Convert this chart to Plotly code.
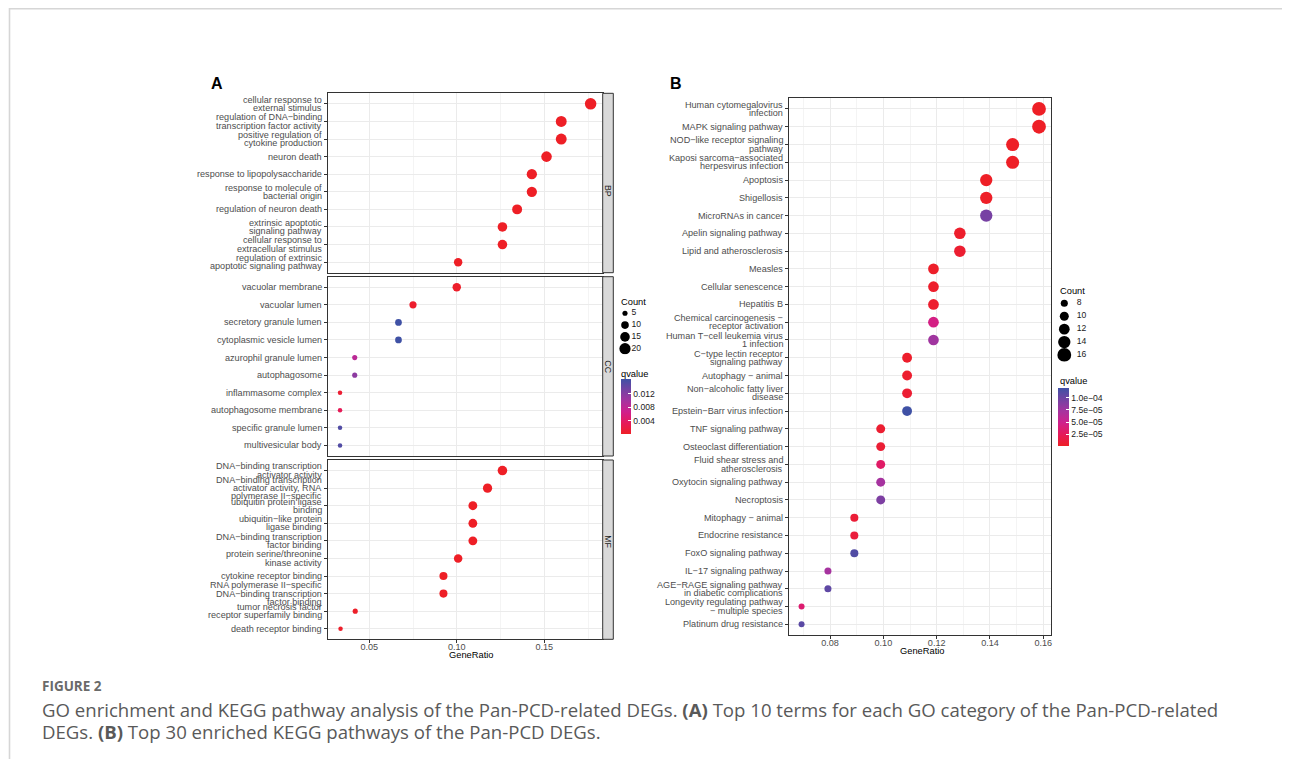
import math
import plotly.graph_objects as go

# page geometry: plotly's html page has an 8px body margin
PAGE_W, PAGE_H = 1290, 767
OX, OY = 8, 8
W, H = PAGE_W - 2 * OX, PAGE_H - 2 * OY
FONT = "Liberation Sans, Arial, Helvetica, sans-serif"
M = "\u2212"  # minus-like dash used by the R device


def fx(px):
    return (px - OX) / W


def fy(py):
    return 1 - (py - OY) / H


# ---------------- Panel A : GO enrichment ----------------
bp_terms = [
    "cellular response to<br>external stimulus",
    f"regulation of DNA{M}binding<br>transcription factor activity",
    "positive regulation of<br>cytokine production",
    "neuron death",
    "response to lipopolysaccharide",
    "response to molecule of<br>bacterial origin",
    "regulation of neuron death",
    "extrinsic apoptotic<br>signaling pathway",
    "cellular response to<br>extracellular stimulus",
    "regulation of extrinsic<br>apoptotic signaling pathway",
]
bp_ratio = [0.1765, 0.1597, 0.1597, 0.1513, 0.1429, 0.1429, 0.1345, 0.1261, 0.1261, 0.1008]
bp_count = [21, 19, 19, 18, 17, 17, 16, 15, 15, 12]
bp_q = [1e-9, 2e-8, 3e-8, 5e-8, 8e-8, 1e-7, 2e-7, 4e-7, 5e-7, 2e-6]

cc_terms = [
    "vacuolar membrane",
    "vacuolar lumen",
    "secretory granule lumen",
    "cytoplasmic vesicle lumen",
    "azurophil granule lumen",
    "autophagosome",
    "inflammasome complex",
    "autophagosome membrane",
    "specific granule lumen",
    "multivesicular body",
]
cc_ratio = [0.1000, 0.0750, 0.0667, 0.0667, 0.0417, 0.0417, 0.0333, 0.0333, 0.0333, 0.0333]
cc_count = [12, 9, 8, 8, 5, 5, 4, 4, 4, 4]
cc_q = [0.0003, 0.0005, 0.0164, 0.0164, 0.0082, 0.0115, 0.0008, 0.0030, 0.0153, 0.0153]

mf_terms = [
    f"DNA{M}binding transcription<br>activator activity",
    f"DNA{M}binding transcription<br>activator activity, RNA<br>polymerase II{M}specific",
    "ubiquitin protein ligase<br>binding",
    f"ubiquitin{M}like protein<br>ligase binding",
    f"DNA{M}binding transcription<br>factor binding",
    "protein serine/threonine<br>kinase activity",
    "cytokine receptor binding",
    f"RNA polymerase II{M}specific<br>DNA{M}binding transcription<br>factor binding",
    "tumor necrosis factor<br>receptor superfamily binding",
    "death receptor binding",
]
mf_ratio = [0.1261, 0.1176, 0.1092, 0.1092, 0.1092, 0.1008, 0.0924, 0.0924, 0.0420, 0.0336]
mf_count = [15, 14, 13, 13, 13, 12, 11, 11, 5, 4]
mf_q = [1e-7, 2e-7, 4e-7, 5e-7, 6e-7, 1e-6, 3e-6, 4e-6, 2e-4, 3e-4]

a_legend_counts = [5, 10, 15, 20]
a_q_ticks = [0.004, 0.008, 0.012]
a_q_ticktext = ["0.004", "0.008", "0.012"]

# ---------------- Panel B : KEGG ----------------
kegg_terms = [
    "Human cytomegalovirus<br>infection",
    "MAPK signaling pathway",
    f"NOD{M}like receptor signaling<br>pathway",
    f"Kaposi sarcoma{M}associated<br>herpesvirus infection",
    "Apoptosis",
    "Shigellosis",
    "MicroRNAs in cancer",
    "Apelin signaling pathway",
    "Lipid and atherosclerosis",
    "Measles",
    "Cellular senescence",
    "Hepatitis B",
    f"Chemical carcinogenesis {M}<br>receptor activation",
    f"Human T{M}cell leukemia virus<br>1 infection",
    f"C{M}type lectin receptor<br>signaling pathway",
    f"Autophagy {M} animal",
    f"Non{M}alcoholic fatty liver<br>disease",
    f"Epstein{M}Barr virus infection",
    "TNF signaling pathway",
    "Osteoclast differentiation",
    "Fluid shear stress and<br>atherosclerosis",
    "Oxytocin signaling pathway",
    "Necroptosis",
    f"Mitophagy {M} animal",
    "Endocrine resistance",
    "FoxO signaling pathway",
    f"IL{M}17 signaling pathway",
    f"AGE{M}RAGE signaling pathway<br>in diabetic complications",
    f"Longevity regulating pathway<br>{M} multiple species",
    "Platinum drug resistance",
]
kegg_ratio = [0.1584, 0.1584, 0.1485, 0.1485, 0.1386, 0.1386, 0.1386, 0.1287, 0.1287,
              0.1188, 0.1188, 0.1188, 0.1188, 0.1188, 0.1089, 0.1089, 0.1089, 0.1089,
              0.0990, 0.0990, 0.0990, 0.0990, 0.0990, 0.0891, 0.0891, 0.0891,
              0.0792, 0.0792, 0.0693, 0.0693]
kegg_count = [16, 16, 15, 15, 14, 14, 14, 13, 13, 12, 12, 12, 12, 12, 11, 11, 11, 11,
              10, 10, 10, 10, 10, 9, 9, 9, 8, 8, 7, 7]
kegg_q = [1e-8, 2e-8, 5e-8, 8e-8, 2e-7, 1e-6, 9.5e-5, 3e-6, 5e-6,
          2e-6, 3e-6, 4e-6, 4.4e-5, 7.5e-5, 3e-6, 4e-6, 6e-6, 1.2e-4,
          5e-6, 7e-6, 3e-5, 7.2e-5, 9.2e-5, 8e-6, 1e-5, 1.12e-4,
          7.2e-5, 1.06e-4, 3.4e-5, 1.08e-4]

b_legend_counts = [8, 10, 12, 14, 16]
b_q_ticks = [2.5e-5, 5.0e-5, 7.5e-5, 1.0e-4]
b_q_ticktext = [f"2.5e{M}05", f"5.0e{M}05", f"7.5e{M}05", f"1.0e{M}04"]

# ---------------- styling ----------------
COLORSCALE = [
    [0.0, "#EE1F26"],
    [0.2, "#E51A5A"],
    [0.4, "#D0208C"],
    [0.6, "#A6339F"],
    [0.8, "#7542A3"],
    [1.0, "#3F51A5"],
]


def size_a(c):
    return -0.92 + 2.71 * math.sqrt(c)


def size_b(c):
    return -9.24 + 5.76 * math.sqrt(c)


fig = go.Figure()

panels_a = [
    (bp_terms, bp_ratio, bp_count, bp_q, "x", "y"),
    (cc_terms, cc_ratio, cc_count, cc_q, "x2", "y2"),
    (mf_terms, mf_ratio, mf_count, mf_q, "x3", "y3"),
]
for terms, ratio, count, q, xa, ya in panels_a:
    fig.add_trace(go.Scatter(
        x=ratio, y=terms, mode="markers", xaxis=xa, yaxis=ya,
        marker=dict(size=[size_a(c) for c in count], color=q, coloraxis="coloraxis",
                    line=dict(width=0), opacity=1),
        showlegend=False, hoverinfo="skip",
    ))

fig.add_trace(go.Scatter(
    x=kegg_ratio, y=kegg_terms, mode="markers", xaxis="x4", yaxis="y4",
    marker=dict(size=[size_b(c) for c in kegg_count], color=kegg_q, coloraxis="coloraxis2",
                line=dict(width=0), opacity=1),
    showlegend=False, hoverinfo="skip",
))

# size legends (auxiliary axes, one row per legend entry)
for counts, sizefn, xa, ya, label_x in [(a_legend_counts, size_a, "x5", "y5", 6.5),
                                        (b_legend_counts, size_b, "x6", "y6", 12.5)]:
    rows = list(range(len(counts)))
    fig.add_trace(go.Scatter(
        x=[0] * len(counts), y=rows, mode="markers", xaxis=xa, yaxis=ya,
        marker=dict(size=[sizefn(c) for c in counts], color="black", line=dict(width=0), opacity=1),
        showlegend=False, hoverinfo="skip",
    ))
    fig.add_trace(go.Scatter(
        x=[label_x] * len(counts), y=rows, mode="text", xaxis=xa, yaxis=ya,
        text=[str(c) for c in counts],
        textposition="middle right", textfont=dict(family=FONT, size=8.6, color="#1A1A1A"),
        showlegend=False, hoverinfo="skip",
    ))

tickfont = dict(family=FONT, size=9.1, color="#4D4D4D")
titlefont = dict(family=FONT, size=9.3, color="#000000")


def xaxis_cfg(domain, rng, dtick, minor_dtick, ticks_on, anchor, matches=None):
    d = dict(
        domain=domain, range=rng, anchor=anchor, dtick=dtick, tick0=0,
        showgrid=True, gridcolor="#EBEBEB", gridwidth=1, zeroline=False,
        showline=True, mirror=True, linecolor="#333333", linewidth=1,
        tickformat=".2f", tickfont=tickfont, fixedrange=True,
        minor=dict(dtick=minor_dtick, tick0=0, showgrid=True, gridcolor="#EFEFEF",
                   gridwidth=0.7, ticks=""),
        showticklabels=ticks_on, ticks="outside" if ticks_on else "",
        ticklen=3, tickwidth=1, tickcolor="#333333",
    )
    if ticks_on:
        d["ticklabelstandoff"] = -4
    if matches:
        d["matches"] = matches
    return d


def yaxis_cfg(domain, terms, anchor):
    n = len(terms)
    return dict(
        domain=domain, type="category", categoryorder="array", categoryarray=terms,
        range=[n - 0.4, -0.6], anchor=anchor,
        showgrid=True, gridcolor="#EBEBEB", gridwidth=1, zeroline=False,
        showline=True, mirror=True, linecolor="#333333", linewidth=1,
        showticklabels=False, ticks="outside", ticklen=3, tickwidth=1, tickcolor="#333333",
        fixedrange=True,
    )


A_LEFT, A_RIGHT = 328.3, 602.7
A_XR = [0.0266, 0.1834]
A_PANELS = [(93.3, 272.7), (276.7, 456.0), (460.0, 639.3)]
B_LEFT, B_RIGHT = 789.3, 1051.0
B_XR = [0.0647, 0.1629]
B_TOP, B_BOT = 98.3, 635.0

layout = dict(
    width=W, height=H, autosize=False,
    margin=dict(l=0, r=0, t=0, b=0, pad=0),
    paper_bgcolor="white", plot_bgcolor="white",
    showlegend=False, hovermode=False,
    font=dict(family=FONT, color="#000000"),
    xaxis=xaxis_cfg([fx(A_LEFT), fx(A_RIGHT)], A_XR, 0.05, 0.025, False, "y"),
    xaxis2=xaxis_cfg([fx(A_LEFT), fx(A_RIGHT)], A_XR, 0.05, 0.025, False, "y2", "x"),
    xaxis3=xaxis_cfg([fx(A_LEFT), fx(A_RIGHT)], A_XR, 0.05, 0.025, True, "y3", "x"),
    yaxis=yaxis_cfg([fy(A_PANELS[0][1]), fy(A_PANELS[0][0])], bp_terms, "x"),
    yaxis2=yaxis_cfg([fy(A_PANELS[1][1]), fy(A_PANELS[1][0])], cc_terms, "x2"),
    yaxis3=yaxis_cfg([fy(A_PANELS[2][1]), fy(A_PANELS[2][0])], mf_terms, "x3"),
    xaxis4=xaxis_cfg([fx(B_LEFT), fx(B_RIGHT)], B_XR, 0.02, 0.01, True, "y4"),
    yaxis4=yaxis_cfg([fy(B_BOT), fy(B_TOP)], kegg_terms, "x4"),
    xaxis5=dict(domain=[fx(625 - 10), fx(625 + 30)], range=[-10, 30], visible=False,
                fixedrange=True, anchor="y5"),
    yaxis5=dict(domain=[fy(348.7 + 5.9), fy(313.3 - 5.9)], range=[3.5, -0.5], visible=False,
                fixedrange=True, anchor="x5"),
    xaxis6=dict(domain=[fx(1064.3 - 10), fx(1064.3 + 30)], range=[-10, 30], visible=False,
                fixedrange=True, anchor="y6"),
    yaxis6=dict(domain=[fy(355.0 + 6.45), fy(303.3 - 6.45)], range=[4.5, -0.5], visible=False,
                fixedrange=True, anchor="x6"),
    coloraxis=dict(
        colorscale=COLORSCALE,
        colorbar=dict(
            x=fx(621), xanchor="left", y=fy(406.7), yanchor="middle",
            len=54.7, lenmode="pixels", thickness=10, thicknessmode="pixels",
            outlinewidth=0, xpad=0, ypad=0, ticks="inside", ticklen=3, tickwidth=1,
            tickcolor="white", tickvals=a_q_ticks, ticktext=a_q_ticktext,
            tickfont=dict(family=FONT, size=8.6, color="#1A1A1A"),
            title=dict(text=""),
        ),
    ),
    coloraxis2=dict(
        colorscale=COLORSCALE,
        colorbar=dict(
            x=fx(1058.3), xanchor="left", y=fy(417.2), yanchor="middle",
            len=57.7, lenmode="pixels", thickness=10.5, thicknessmode="pixels",
            outlinewidth=0, xpad=0, ypad=0, ticks="inside", ticklen=3, tickwidth=1,
            tickcolor="white", tickvals=b_q_ticks, ticktext=b_q_ticktext,
            tickfont=dict(family=FONT, size=8.6, color="#1A1A1A"),
            title=dict(text=""),
        ),
    ),
)
fig.update_layout(**layout)

shapes = []
annotations = []

# y-axis category labels, one annotation per text line (tight R-style line spacing)
LINE_GAP = 8.3
for terms, yref, left in [(bp_terms, "y", A_LEFT), (cc_terms, "y2", A_LEFT),
                          (mf_terms, "y3", A_LEFT), (kegg_terms, "y4", B_LEFT)]:
    for idx, term in enumerate(terms):
        lines = term.split("<br>")
        n = len(lines)
        for j, line in enumerate(lines):
            annotations.append(dict(
                text=line, xref="paper", yref=yref, x=fx(left - 4.5), y=idx,
                xanchor="right", yanchor="middle", yshift=((n - 1) / 2 - j) * LINE_GAP,
                showarrow=False, font=tickfont,
            ))

# x-axis titles
for x, y in [(470.5, 655.0), (922.0, 651.0)]:
    annotations.append(dict(text="GeneRatio", xref="paper", yref="paper", x=fx(x), y=fy(y),
                            xanchor="center", yanchor="middle", showarrow=False, font=titlefont))

# facet strips for GO categories
strip_l, strip_r = 602.7, 613.3
for label, (top, bot) in zip(["BP", "CC", "MF"], A_PANELS):
    shapes.append(dict(type="rect", xref="paper", yref="paper",
                       x0=fx(strip_l), x1=fx(strip_r), y0=fy(bot), y1=fy(top),
                       fillcolor="#D9D9D9", line=dict(color="#333333", width=1), layer="above"))
    annotations.append(dict(text=label, xref="paper", yref="paper",
                            x=fx((strip_l + strip_r) / 2), y=fy((top + bot) / 2),
                            textangle=90, showarrow=False,
                            font=dict(family=FONT, size=8.8, color="#1A1A1A")))

# page frame lines
shapes.append(dict(type="line", xref="paper", yref="paper", x0=fx(9), x1=1, y0=fy(8.8), y1=fy(8.8),
                   line=dict(color="#D6D6D6", width=1.6)))
shapes.append(dict(type="line", xref="paper", yref="paper", x0=fx(9.5), x1=fx(9.5), y0=0, y1=fy(8),
                   line=dict(color="#D6D6D6", width=1.6)))

# legend titles
for txt, x, y in [("Count", 619, 302.3), ("qvalue", 619, 373.5),
                  ("Count", 1057.7, 290.7), ("qvalue", 1057.7, 380.7)]:
    annotations.append(dict(text=txt, xref="paper", yref="paper", x=fx(x), y=fy(y),
                            xanchor="left", yanchor="middle", showarrow=False,
                            font=dict(family=FONT, size=9.3, color="#000000")))

# panel letters
for txt, x in [("A", 217), ("B", 676)]:
    annotations.append(dict(text=f"<b>{txt}</b>", xref="paper", yref="paper", x=fx(x), y=fy(83),
                            xanchor="center", yanchor="middle", showarrow=False,
                            font=dict(family=FONT, size=16, color="#000000")))

# caption
CAP_FONT = "Open Sans, sans-serif"
annotations.append(dict(text="<b>FIGURE 2</b>", xref="paper", yref="paper", x=fx(40), y=fy(686),
                        xanchor="left", yanchor="middle", showarrow=False,
                        font=dict(family=CAP_FONT, size=13.5, color="#6A6A6A")))
caption_lines = [
    "GO enrichment and KEGG pathway analysis of the Pan-PCD-related DEGs. <b>(A)</b> Top 10 terms "
    "for each GO category of the Pan-PCD-related",
    "DEGs. <b>(B)</b> Top 30 enriched KEGG pathways of the Pan-PCD DEGs.",
]
for line, yc in zip(caption_lines, [709, 731]):
    annotations.append(dict(
        text=line, xref="paper", yref="paper", x=fx(40), y=fy(yc), xanchor="left",
        yanchor="middle", align="left", showarrow=False,
        font=dict(family=CAP_FONT, size=18.6, color="#595959")))

fig.update_layout(shapes=shapes, annotations=annotations)

fig.write_html("out.html", config=dict(displayModeBar=False, staticPlot=True))
